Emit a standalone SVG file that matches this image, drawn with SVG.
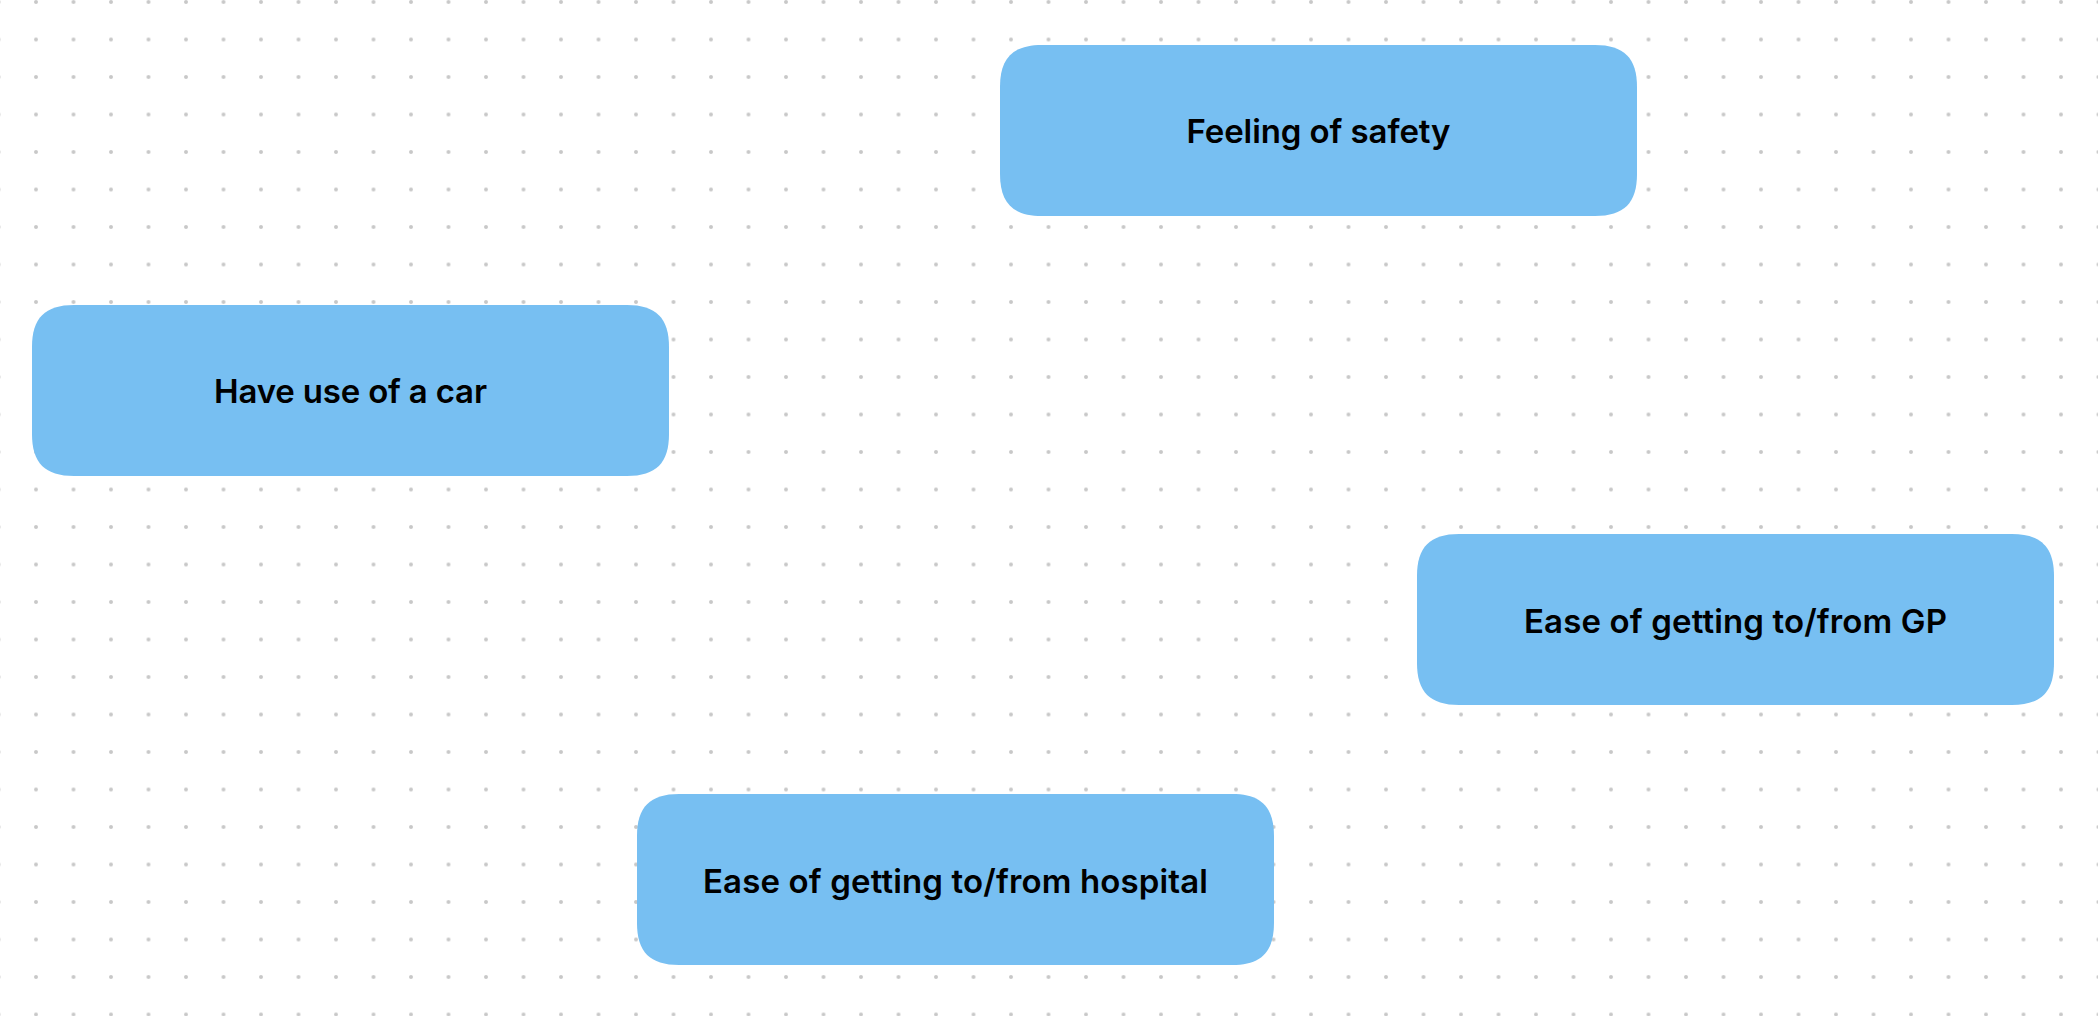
<svg xmlns="http://www.w3.org/2000/svg" xmlns:xlink="http://www.w3.org/1999/xlink" width="2098" height="1016" viewBox="0 0 2098 1016">
  <style>
    .node-shape { fill: #77BFF2; }
    .label { font-family: Inter, "Noto Sans", "Liberation Sans", sans-serif; font-weight: 600; font-size: 33px; fill: #000000; text-anchor: middle; }
  </style>
  <defs>
    <pattern id="dots" patternUnits="userSpaceOnUse" x="-20.25" y="-16.75" width="37.5" height="37.5">
      <circle cx="18.75" cy="18.75" r="2" fill="#c8c8c8"/>
    </pattern>
    <path id="box" d="M42,0 H595 C624,0 637,13 637,42 V129 C637,158 624,171 595,171 H42 C13,171 0,158 0,129 V42 C0,13 13,0 42,0 Z"/>
  </defs>
  <rect width="2098" height="1016" fill="#ffffff"/>
  <rect width="2098" height="1016" fill="url(#dots)"/>
  <g id="connectors"></g>
  <g id="node-feeling-of-safety">
    <use xlink:href="#box" href="#box" class="node-shape" x="1000" y="45"/>
    <text class="label" x="1318.5" y="143" textLength="264" lengthAdjust="spacing">Feeling of safety</text>
  </g>
  <g id="node-have-use-of-a-car">
    <use xlink:href="#box" href="#box" class="node-shape" x="32" y="305"/>
    <text class="label" x="350.5" y="403" textLength="273" lengthAdjust="spacing">Have use of a car</text>
  </g>
  <g id="node-ease-gp">
    <use xlink:href="#box" href="#box" class="node-shape" x="1417" y="534"/>
    <text class="label" x="1735.5" y="632.5" textLength="423" lengthAdjust="spacing">Ease of getting to/from GP</text>
  </g>
  <g id="node-ease-hospital">
    <use xlink:href="#box" href="#box" class="node-shape" x="637" y="794"/>
    <text class="label" x="955.5" y="892.5" textLength="505" lengthAdjust="spacing">Ease of getting to/from hospital</text>
  </g>
</svg>
